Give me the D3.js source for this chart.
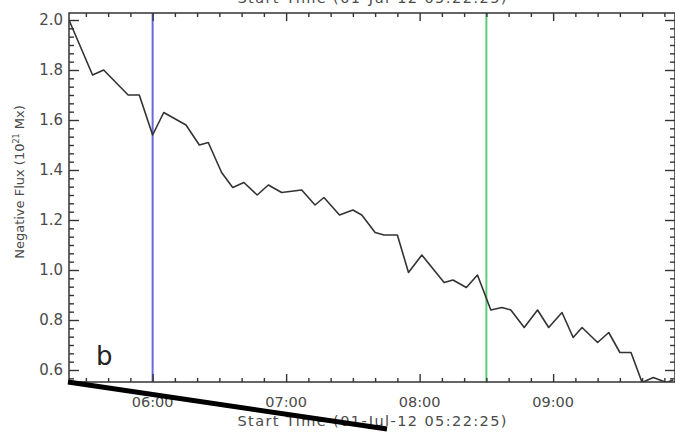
<!DOCTYPE html>
<html>
<head>
<meta charset="utf-8">
<script src="https://cdn.jsdelivr.net/npm/d3@7"></script>
<style>
  html, body { margin: 0; padding: 0; background: #fff; }
  svg { display: block; font-family: "DejaVu Sans", sans-serif; }
</style>
</head>
<body>
<svg id="chart" width="675" height="433"></svg>
<script>
// ---- data ----
const times = ["05:22:25","05:33","05:38","05:49","05:54","06:00","06:05","06:15","06:21","06:25",
  "06:31","06:36","06:41","06:47","06:52","06:58","07:07","07:13","07:17","07:24",
  "07:30","07:34","07:40","07:44","07:50","07:55","08:01","08:11","08:15","08:21",
  "08:26","08:32","08:37","08:41","08:47","08:53","08:58","09:04","09:09","09:13",
  "09:20","09:25","09:30","09:35","09:40","09:45","09:51","09:54"];
const negFlux = [2.00,1.78,1.80,1.70,1.70,1.54,1.63,1.58,1.50,1.51,
  1.39,1.33,1.35,1.30,1.34,1.31,1.32,1.26,1.29,1.22,
  1.24,1.22,1.15,1.14,1.14,0.99,1.06,0.95,0.96,0.93,
  0.98,0.84,0.85,0.84,0.77,0.84,0.77,0.83,0.73,0.77,
  0.71,0.75,0.67,0.67,0.55,0.57,0.55,0.56];
const yTicks = [0.6,0.8,1.0,1.2,1.4,1.6,1.8,2.0];
const xTickLabels = ["06:00","07:00","08:00","09:00"];
const markerTimes = ["06:00","08:30"];
const markerColors = ["#6868e0","#5ccc78"];
const startLabel = "Start Time (01-Jul-12 05:22:25)";
const panelLetter = "b";

// ---- helpers ----
const parseT = s => {
  const p = s.split(":").map(Number);
  return p[0] * 60 + p[1] + (p[2] || 0) / 60; // minutes of day
};
const tStart = parseT(times[0]);

const svg = d3.select("#chart");
const L = 69, R = 675, T = 13, B = 382;
const pxPerHour = 133.5;
const tEnd = tStart + (R - L) / pxPerHour * 60;

const x = d3.scaleLinear().domain([tStart, tEnd]).range([L, R]);
const y = d3.scaleLinear().domain([0.6, 2.0]).range([370, 20]);
const yMin = y.invert(B), yMax = y.invert(T);

const ink = "#333";
const textCol = "#4a4a4a";

// clip
svg.append("clipPath").attr("id", "clip")
  .append("rect").attr("x", L).attr("y", T).attr("width", R - L).attr("height", B - T);

// marker lines
svg.append("g").selectAll("line").data(markerTimes).join("line")
  .attr("x1", d => x(parseT(d))).attr("x2", d => x(parseT(d)))
  .attr("y1", T).attr("y2", B)
  .attr("stroke", (d, i) => markerColors[i]).attr("stroke-width", 2);

// data line
const pts = times.map((t, i) => [parseT(t), negFlux[i]]);
svg.append("path").datum(pts)
  .attr("clip-path", "url(#clip)")
  .attr("fill", "none").attr("stroke", ink).attr("stroke-width", 1.6)
  .attr("stroke-linejoin", "round")
  .attr("d", d3.line().x(d => x(d[0])).y(d => y(d[1])));

// ticks
const majorX = xTickLabels.map(parseT);
const minorX = d3.range(Math.ceil(tStart / 10) * 10, tEnd, 10).filter(m => m % 60 !== 0);
const minorY = [];
for (let v = 0.6 - 0.2 / 6 * 2; v < yMax; v += 0.2 / 6) {
  if (v > yMin && Math.abs(Math.round(v * 5) - v * 5) > 0.01) minorY.push(v);
}

const xAxB = d3.axisTop(x).tickValues(majorX).tickSize(8).tickFormat("");
const xAxBm = d3.axisTop(x).tickValues(minorX).tickSize(4).tickFormat("");
const xAxT = d3.axisBottom(x).tickValues(majorX).tickSize(8).tickFormat("");
const xAxTm = d3.axisBottom(x).tickValues(minorX).tickSize(4).tickFormat("");
const yAxL = d3.axisRight(y).tickValues(yTicks).tickSize(10).tickFormat("");
const yAxLm = d3.axisRight(y).tickValues(minorY).tickSize(5).tickFormat("");
const yAxR = d3.axisLeft(y).tickValues(yTicks).tickSize(10).tickFormat("");
const yAxRm = d3.axisLeft(y).tickValues(minorY).tickSize(5).tickFormat("");

function addAxis(ax, tr) {
  const g = svg.append("g").attr("transform", tr).call(ax);
  g.select(".domain").remove();
  g.selectAll("line").attr("stroke", ink).attr("stroke-width", 1.4);
}
addAxis(xAxB, `translate(0,${B})`);
addAxis(xAxBm, `translate(0,${B})`);
addAxis(xAxT, `translate(0,${T})`);
addAxis(xAxTm, `translate(0,${T})`);
addAxis(yAxL, `translate(${L},0)`);
addAxis(yAxLm, `translate(${L},0)`);
addAxis(yAxR, `translate(${R},0)`);
addAxis(yAxRm, `translate(${R},0)`);

// frame
svg.append("rect").attr("x", L).attr("y", T).attr("width", R - L).attr("height", B - T)
  .attr("fill", "none").attr("stroke", ink).attr("stroke-width", 1.5);

// tick labels
svg.append("g").selectAll("text").data(yTicks).join("text")
  .attr("x", 63).attr("y", d => y(d)).attr("dy", "0.36em")
  .attr("text-anchor", "end").attr("font-size", 15).attr("fill", textCol)
  .text(d => d.toFixed(1));
svg.append("g").selectAll("text").data(xTickLabels).join("text")
  .attr("x", d => x(parseT(d))).attr("y", 406.5)
  .attr("text-anchor", "middle").attr("font-size", 14.5).attr("fill", textCol)
  .text(d => d);

// axis titles
svg.append("text").attr("x", 372).attr("y", 425.5).attr("text-anchor", "middle")
  .attr("font-size", 14.5).attr("fill", textCol).attr("textLength", 269)
  .text(startLabel);
svg.append("text").attr("x", 372).attr("y", 3).attr("text-anchor", "middle")
  .attr("font-size", 14.5).attr("fill", textCol).attr("textLength", 269)
  .text(startLabel);

const yl = svg.append("text").attr("transform", "translate(24,182) rotate(-90)")
  .attr("text-anchor", "middle").attr("font-size", 13).attr("fill", textCol);
yl.append("tspan").text("Negative Flux (10");
yl.append("tspan").attr("font-size", 8).attr("dy", -5).text("21");
yl.append("tspan").attr("dy", 5).text(" Mx)");

// panel letter
svg.append("text").attr("x", 96).attr("y", 365).attr("font-size", 26)
  .attr("fill", "#222").text(panelLetter);

// overlay stroke crossing the lower-left corner
svg.append("line").attr("x1", L - 1).attr("y1", B).attr("x2", L + 318).attr("y2", B + 47)
  .attr("stroke", "#000").attr("stroke-width", 5);
</script>
</body>
</html>
